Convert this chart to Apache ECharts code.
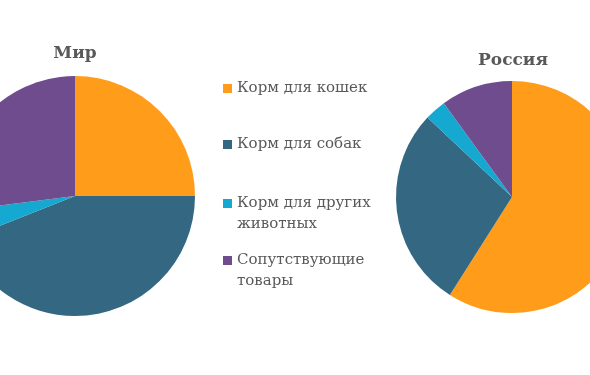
<!DOCTYPE html>
<html>
<head>
<meta charset="utf-8">
<script src="https://cdn.jsdelivr.net/npm/echarts@6/dist/echarts.min.js"></script>
<style>
html,body{margin:0;padding:0;background:#fff;}
#chart{width:590px;height:375px;}
</style>
</head>
<body>
<div id="chart"></div>
<script>
const categories = ['Корм для кошек', 'Корм для собак', 'Корм для других животных', 'Сопутствующие товары'];
const legendLines = [['Корм для кошек'], ['Корм для собак'], ['Корм для других', 'животных'], ['Сопутствующие', 'товары']];
const worldValues = [25, 44, 4, 27];
const russiaValues = [59, 28, 3, 10];
const pieTitles = ['Мир', 'Россия'];
const colors = ['#FF9C1A', '#346781', '#15A8D0', '#6F4C8E'];

const font = 'DejaVu Serif';
const textColor = '#595959';

function mkData(vals) {
  return categories.map((c, i) => ({ name: c, value: vals[i] }));
}

// for two-line items, a blank line on top keeps the first line level with the square
function legendText(lines) {
  return lines.length > 1 ? ' \n' + lines.join('\n') : lines[0];
}

const legendTops = [78, 134, 172, 229];
const legends = categories.map((c, i) => ({
  data: [c],
  left: 223,
  top: legendTops[i],
  padding: 0,
  icon: 'rect',
  itemWidth: 9,
  itemHeight: 9,
  selectedMode: false,
  formatter: () => legendText(legendLines[i]),
  textStyle: {
    fontFamily: font,
    fontSize: 15,
    color: textColor,
    lineHeight: 21
  }
}));

const chart = echarts.init(document.getElementById('chart'));
chart.setOption({
  animation: false,
  color: colors,
  title: [
    { text: pieTitles[0], left: 75, top: 45, padding: 0, textAlign: 'center',
      textStyle: { fontFamily: font, fontSize: 17, fontWeight: 'bold', color: textColor } },
    { text: pieTitles[1], left: 513, top: 52, padding: 0, textAlign: 'center',
      textStyle: { fontFamily: font, fontSize: 17, fontWeight: 'bold', color: textColor } }
  ],
  legend: legends,
  series: [
    { type: 'pie', center: [75, 196], radius: 120, startAngle: 90, clockwise: true,
      label: { show: false }, labelLine: { show: false }, silent: true,
      itemStyle: { borderWidth: 0 }, data: mkData(worldValues) },
    { type: 'pie', center: [512, 197], radius: 116, startAngle: 90, clockwise: true,
      label: { show: false }, labelLine: { show: false }, silent: true,
      itemStyle: { borderWidth: 0 }, data: mkData(russiaValues) }
  ]
});
</script>
</body>
</html>
